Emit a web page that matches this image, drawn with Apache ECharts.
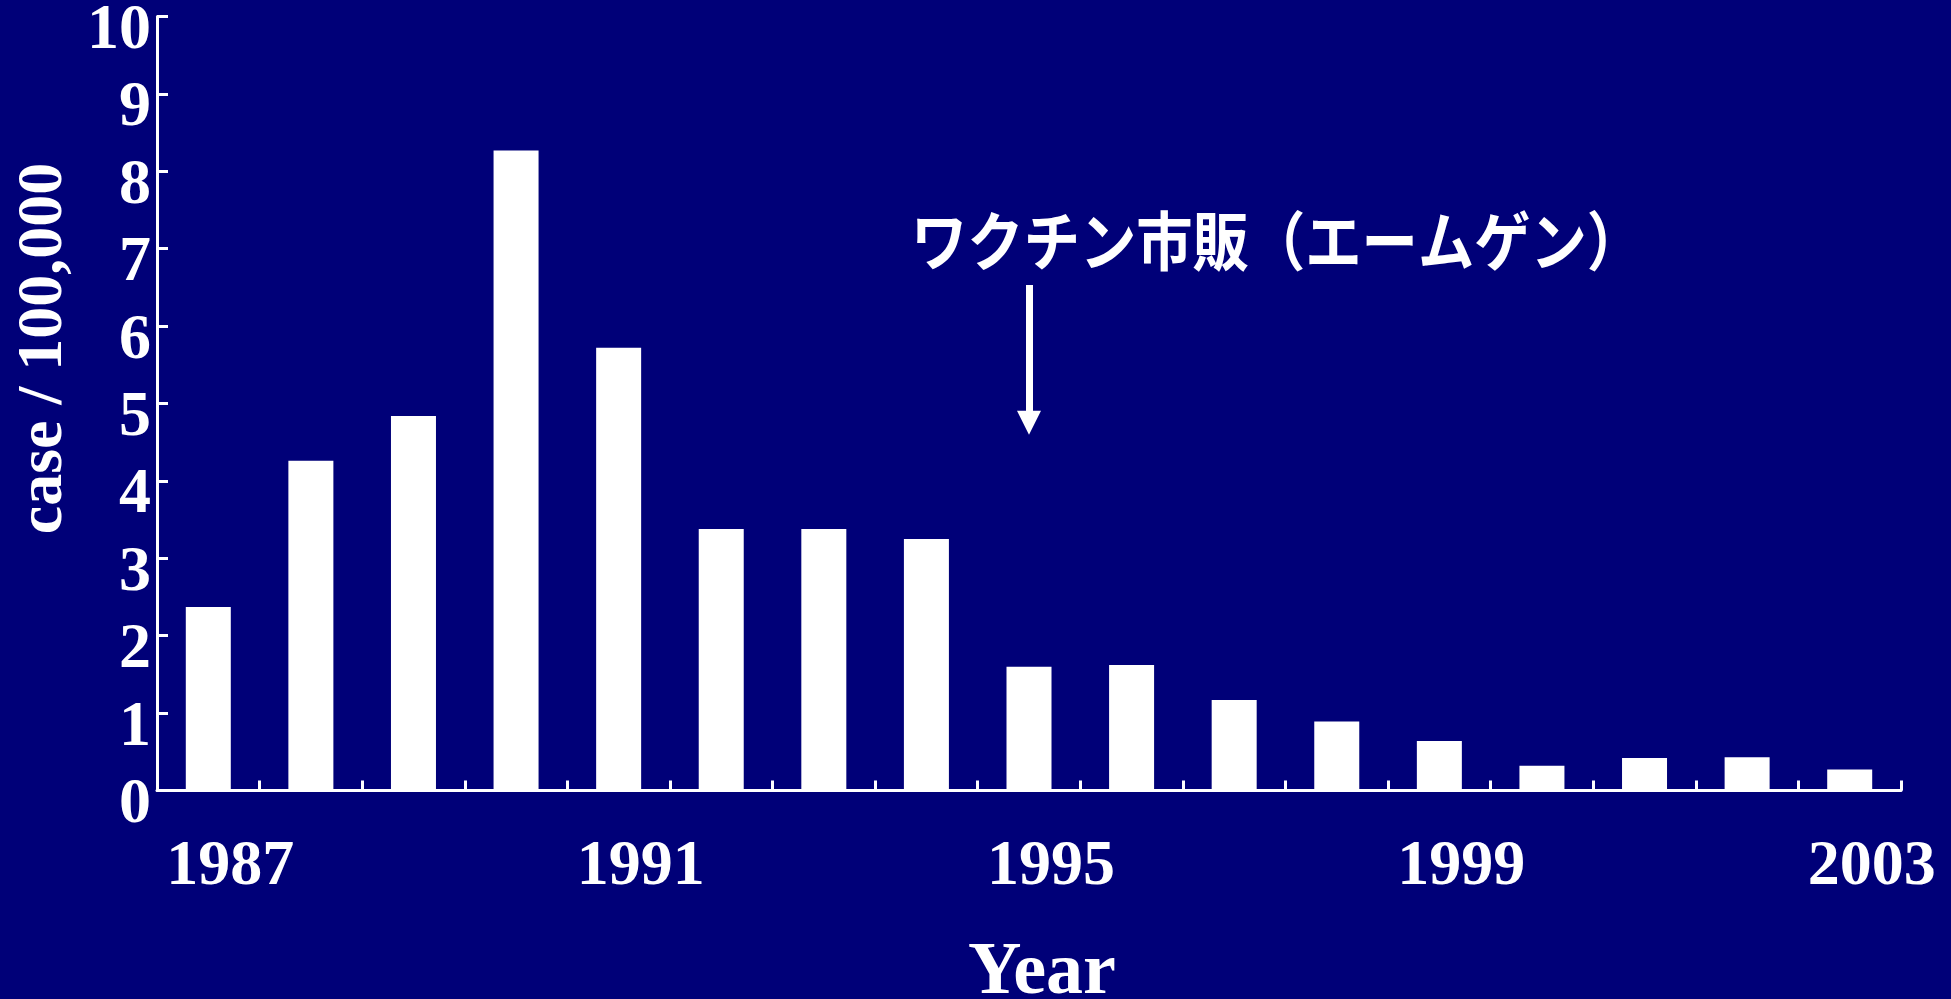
<!DOCTYPE html>
<html>
<head>
<meta charset="utf-8">
<script src="https://cdn.jsdelivr.net/npm/echarts@6/dist/echarts.min.js"></script>
<style>
  html, body { margin: 0; padding: 0; background: #000078; }
  #chart { width: 1951px; height: 999px; }
</style>
</head>
<body>
<div id="chart"></div>
<script>
// Incidence per 100,000, by year
const years = ['1987', '1988', '1989', '1990', '1991', '1992', '1993', '1994', '1995',
               '1996', '1997', '1998', '1999', '2000', '2001', '2002', '2003'];
const cases = [2.37, 4.26, 4.84, 8.27, 5.72, 3.38, 3.38, 3.25, 1.60,
               1.62, 1.17, 0.89, 0.64, 0.32, 0.42, 0.43, 0.27];

// Vaccine launch marker: year and the arrow's start / end on the value scale
const launchYear = '1995';
const arrowFrom = 6.53;
const arrowTo = 4.75;
const launchText = 'ワクチン市販（エームゲン）';

const yTitle = 'case / 100,000';
const xTitle = 'Year';

const serif = "'Liberation Serif', 'Times New Roman', serif";
const white = '#ffffff';

const chart = echarts.init(document.getElementById('chart'), null, { renderer: 'canvas' });

chart.setOption({
  backgroundColor: '#000078',
  animation: false,
  grid: {
    left: 157, right: 50, top: 16.5, bottom: 208.5,
    containLabel: false,
    outerBoundsMode: 'none'
  },
  xAxis: {
    type: 'category',
    data: years,
    boundaryGap: true,
    axisLine: { show: true, lineStyle: { color: white, width: 3 } },
    axisTick: { show: true, inside: true, length: 10, interval: 0, lineStyle: { color: white, width: 3 } },
    axisLabel: {
      interval: 3,
      margin: 45,
      color: white,
      fontFamily: serif,
      fontWeight: 'bold',
      fontSize: 64,
      padding: [0, 0, 0, 44]
    },
    name: xTitle,
    nameLocation: 'middle',
    nameGap: 146,
    nameTextStyle: {
      color: white,
      fontFamily: serif,
      fontWeight: 'bold',
      fontSize: 74,
      padding: [0, 0, 0, 26]
    },
    splitLine: { show: false }
  },
  yAxis: {
    type: 'value',
    min: 0,
    max: 10,
    interval: 1,
    axisLine: { show: true, lineStyle: { color: white, width: 3 } },
    axisTick: { show: true, inside: true, length: 11, lineStyle: { color: white, width: 3 } },
    axisLabel: {
      margin: 6,
      color: white,
      fontFamily: serif,
      fontWeight: 'bold',
      fontSize: 64,
      verticalAlign: 'top',
      lineHeight: 30
    },
    name: yTitle,
    nameLocation: 'middle',
    nameRotate: 90,
    nameGap: 80,
    nameTextStyle: {
      color: white,
      fontFamily: serif,
      fontWeight: 'bold',
      fontSize: 64,
      padding: [0, 0, 0, 110]
    },
    splitLine: { show: false }
  },
  series: [{
    type: 'bar',
    data: cases,
    barWidth: 45,
    itemStyle: { color: white },
    markLine: {
      silent: true,
      symbol: ['none', 'triangle'],
      symbolSize: [24, 24],
      label: { show: false },
      lineStyle: { color: white, width: 7, type: 'solid' },
      data: [[
        { coord: [years.indexOf(launchYear), arrowFrom] },
        { coord: [years.indexOf(launchYear), arrowTo] }
      ]]
    }
  }],
  graphic: [{
    type: 'text',
    x: 911,
    y: 241,
    scaleX: 0.88,
    style: {
      text: launchText,
      fill: white,
      font: "bold 64px 'Noto Sans CJK JP'",
      textVerticalAlign: 'middle',
      textAlign: 'left'
    }
  }]
});
</script>
</body>
</html>
